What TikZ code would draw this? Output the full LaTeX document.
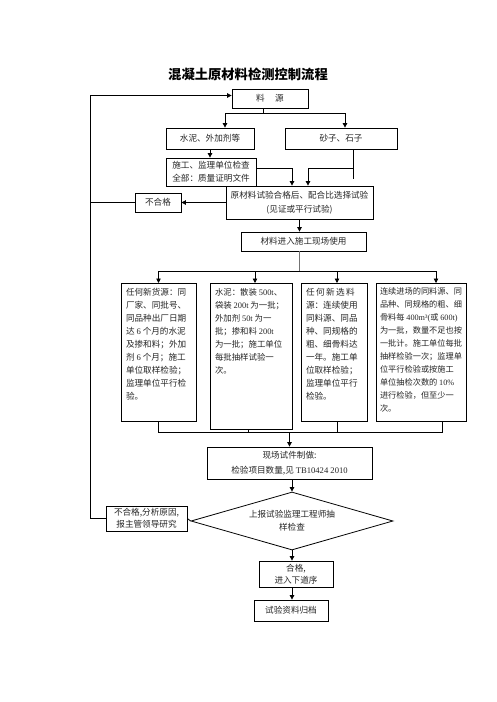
\documentclass[tikz,border=0pt]{standalone}
\usepackage{fontspec}
\setmainfont{Noto Sans CJK SC}
\newfontfamily\latf{Liberation Serif}
\newcommand{\lt}[1]{{\latf #1}}
\usetikzlibrary{arrows.meta,shapes.geometric}
\tikzset{
  box/.style={draw=black, line width=0.8pt, inner sep=1pt, align=center, font=\fontsize{8.6}{13}\selectfont, text=black!85},
  tbox/.style={draw=black, line width=0.8pt, inner sep=5pt, anchor=north, font=\fontsize{8.6}{13}\selectfont, text=black!85},
  dbox/.style={draw=black, line width=0.8pt, diamond, aspect=3.48, inner sep=0pt, minimum width=202pt, minimum height=58pt, align=center, font=\fontsize{8.6}{13}\selectfont, text=black!85},
  ln/.style={line width=0.8pt, black},
  arr/.style={ln, -{Triangle[length=4.5pt,width=4.5pt]}},
  grayln/.style={line width=1.6pt, black!55}
}
\begin{document}
\begin{tikzpicture}[x=1pt,y=-1pt]
\useasboundingbox[fill=white] (0,0) rectangle (496,702);
% title
\node[font=\fontsize{13.3}{15}\selectfont\bfseries] (title) at (248,74) {混凝土原材料检测控制流程};
% boxes
\node[box, minimum width=76pt, minimum height=19pt] (src) at (270,98.5) {料\hspace{1.2em}源};
\node[box, minimum width=88pt, minimum height=21pt] (cem) at (210,138.5) {水泥、外加剂等};
\node[box, minimum width=112pt, minimum height=21pt] (sand) at (341,138.5) {砂子、石子};
\node[box, minimum width=90pt, minimum height=28pt, font=\fontsize{8.6}{13}\selectfont] (cert) at (211,172) {施工、监理单位检查\\全部：质量证明文件};
\node[box, minimum width=147pt, minimum height=33pt, font=\fontsize{8.6}{14}\selectfont] (raw) at (299.5,202.5) {原材料试验合格后、配合比选择试验\\(见证或平行试验)};
\node[box, minimum width=46pt, minimum height=19pt] (fail1) at (158,202.5) {不合格};
\node[box, minimum width=125pt, minimum height=19pt] (use) at (303.5,241.5) {材料进入施工现场使用};
% four rule boxes
\node[tbox] (b1) at (158.5,283) {\parbox[t][128pt][t]{65pt}{\raggedright
\mbox{任何新货源：同}\\\mbox{厂家、同批号、}\\\mbox{同品种出厂日期}\\\mbox{达 \lt{6} 个月的水泥}\\\mbox{及掺和料；外加}\\\mbox{剂 \lt{6} 个月；施工}\\\mbox{单位取样检验；}\\\mbox{监理单位平行检}\\\mbox{验。}}};
\node[tbox] (b2) at (251,283) {\parbox[t][136pt][t]{72pt}{\raggedright\fontsize{8.4}{13}\selectfont
\mbox{水泥：散装 \lt{500t}、}\\\mbox{袋装 \lt{200t} 为一批；}\\\mbox{外加剂 \lt{50t} 为一}\\\mbox{批；掺和料 \lt{200t}}\\\mbox{为一批；施工单位}\\\mbox{每批抽样试验一}\\\mbox{次。}}};
\node[tbox] (b3) at (334,283) {\parbox[t][128pt][t]{56pt}{\raggedright
\mbox{任\,何\,新\,选\,料}\\\mbox{源：连续使用}\\\mbox{同料源、同品}\\\mbox{种、同规格的}\\\mbox{粗、细骨料达}\\\mbox{一年。施工单}\\\mbox{位取样检验；}\\\mbox{监理单位平行}\\\mbox{检验。}}};
\node[tbox, inner sep=4pt] (b4) at (421,283) {\parbox[t][130pt][t]{82pt}{\raggedright\fontsize{8.2}{13}\selectfont
\mbox{连续进场的同料源、同}\\\mbox{品种、同规格的粗、细}\\\mbox{骨料每 \lt{400m³(}或 \lt{600t)}}\\\mbox{为一批，数量不足也按}\\\mbox{一批计。施工单位每批}\\\mbox{抽样检验一次；监理单}\\\mbox{位平行检验或按施工}\\\mbox{单位抽检次数的 \lt{10\%}}\\\mbox{进行检验，但至少一}\\\mbox{次。}}};
% lower part
\node[box, minimum width=165pt, minimum height=32pt, font=\fontsize{8.6}{15}\selectfont] (xc) at (289.5,463) {现场试件制做:\\检验项目数量,见 \lt{TB10424 2010}};
\node[dbox] (dia) at (292,521) {上报试验监理工程师抽\\样检查};
\node[box, minimum width=81pt, minimum height=25pt, font=\fontsize{8.6}{12}\selectfont] (fail2) at (146.5,518.5) {不合格,分析原因,\\报主管领导研究};
\node[box, minimum width=74pt, minimum height=26pt, font=\fontsize{8.6}{12}\selectfont] (pass) at (296,574) {合格,\\进入下道序};
\node[box, minimum width=74pt, minimum height=21pt] (arch) at (291,610.5) {试验资料归档};
% connectors top
\coordinate (j1) at ([xshift=-7pt,yshift=-5pt]src.south);
\draw[ln] ([xshift=-7pt]src.south) -- (j1);
\draw[arr] (j1) -| ([xshift=15pt]cem.north);
\draw[arr] (j1) -| ([xshift=4pt]sand.north);
\draw[arr] (cem.south) -- (cem.south |- cert.north);
\draw[arr] ([yshift=4pt]cert.east) -| ([xshift=-7.5pt]raw.north);
\coordinate (sj) at ([xshift=12pt,yshift=-19pt]sand.south);
\draw[ln] ([xshift=12pt]sand.south) -- ([xshift=12pt,yshift=-30pt]sand.south);
\draw[arr] (sj) -| ([xshift=8.5pt]raw.north);
\draw[arr] (raw.west) -- (fail1.east);
\draw[arr] (raw.south) -- (raw.south |- use.north);
% loop back
\coordinate (lc) at ([xshift=-15pt]fail2.west);
\draw[arr] (fail2.west) -- (lc) |- ([yshift=3pt]src.west);
\draw[ln] (fail1.west) -- (fail1.west -| lc);
% to four boxes
\coordinate (j2) at ([yshift=-20pt]raw.south |- use.south);
\draw[grayln] (raw.south |- use.south) -- (j2);
\draw[arr] (j2) -| (b1.north);
\draw[arr] (j2) -| ([xshift=4pt]b2.north);
\draw[arr] (j2) -| ([xshift=3pt]b3.north);
\draw[arr] (j2) -| ([xshift=15pt]b4.north);
% from four boxes
\coordinate (j3) at ([yshift=14pt]xc.north);
\draw[ln] (b1.south) |- (j3);
\draw[ln] ([xshift=-3pt]b2.south) -- ([xshift=-3pt]b2.south |- j3);
\draw[ln] ([xshift=3pt]b3.south) -- ([xshift=3pt]b3.south |- j3);
\draw[ln] ([xshift=21pt]b4.south) |- (j3);
\draw[arr] (j3) -- (xc.north);
\draw[arr] (xc.south -| dia.north) -- (dia.north);
\draw[ln] (dia.west) -- (fail2.east);
\draw[arr] (dia.south) -- (dia.south |- pass.north);
\draw[arr] (dia.south |- pass.south) -- (dia.south |- arch.north);
\end{tikzpicture}
\end{document}
